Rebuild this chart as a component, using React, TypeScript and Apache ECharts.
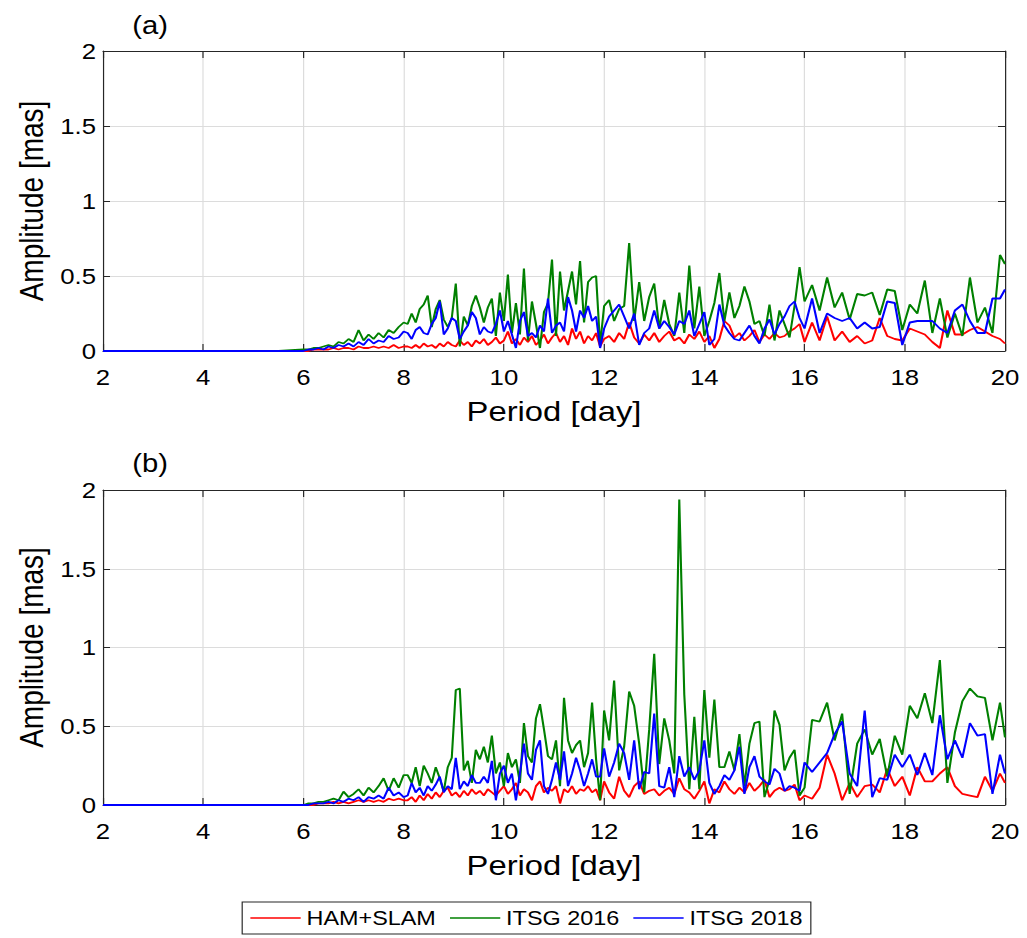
import React, { useEffect, useRef } from "react";
import * as echarts from "echarts";

// Horizontal stretch of the reference picture
const S = 1.17;
const W = Math.round(1027 / S);
const H = 938;

const seriesNames = ["HAM+SLAM", "ITSG 2016", "ITSG 2018"];
const seriesColors = ["#ff0000", "#008000", "#0000ff"];
const xTicks = [2, 4, 6, 8, 10, 12, 14, 16, 18, 20];
const yTicks = [0, 0.5, 1, 1.5, 2];

// Period [day] sample positions
const periods = [
  2, 3, 4, 5, 5.5,
  6.0, 6.1, 6.2, 6.3, 6.4, 6.5, 6.6, 6.7, 6.8, 6.9,
  7.0, 7.1, 7.2, 7.3, 7.4, 7.5, 7.6, 7.7, 7.8, 7.9, 8.0,
  8.08, 8.16, 8.24, 8.32, 8.40, 8.48, 8.56, 8.64, 8.72, 8.80,
  8.88, 8.96, 9.04, 9.12, 9.20, 9.28, 9.36, 9.44, 9.52, 9.60,
  9.68, 9.76, 9.84, 9.92, 10.00, 10.08, 10.16, 10.24, 10.32, 10.40,
  10.48, 10.56, 10.64, 10.72, 10.80, 10.88, 10.96, 11.04, 11.12, 11.20,
  11.28, 11.36, 11.44, 11.52, 11.60, 11.68, 11.76, 11.84, 11.92, 12.00,
  12.1, 12.2, 12.3, 12.4, 12.5, 12.6, 12.7, 12.8, 12.9, 13.0,
  13.1, 13.2, 13.3, 13.4, 13.5, 13.6, 13.7, 13.8, 13.9, 14.0,
  14.1, 14.2, 14.3, 14.4, 14.5, 14.6, 14.7, 14.8, 14.9, 15.0,
  15.1, 15.2, 15.3, 15.4, 15.5, 15.6, 15.7, 15.8, 15.9, 16.0,
  16.15, 16.3, 16.45, 16.6, 16.75, 16.9, 17.05, 17.2, 17.35, 17.5,
  17.65, 17.8, 17.95, 18.1, 18.25, 18.4, 18.55, 18.7, 18.85, 19.0,
  19.15, 19.3, 19.45, 19.6, 19.75, 19.9, 20.0,
];

// Panel (a) amplitudes [mas]
const hamA = [
  0, 0, 0, 0, 0,
  0, 0, 0.01, 0.01, 0.01, 0.01, 0.02, 0.01, 0.02, 0.02,
  0.01, 0.03, 0.02, 0.02, 0.03, 0.02, 0.03, 0.02, 0.04, 0.02, 0.03,
  0.03, 0.02, 0.04, 0.02, 0.05, 0.03, 0.04, 0.02, 0.05, 0.03,
  0.06, 0.04, 0.03, 0.07, 0.04, 0.06, 0.03, 0.07, 0.05, 0.08,
  0.04, 0.06, 0.09, 0.05, 0.07, 0.13, 0.05, 0.08, 0.04, 0.09,
  0.06, 0.1, 0.04, 0.07, 0.11, 0.05, 0.09, 0.12, 0.06, 0.1,
  0.04, 0.15, 0.08, 0.13, 0.05, 0.1, 0.07, 0.12, 0.03, 0.08,
  0.1, 0.06, 0.12, 0.08, 0.19, 0.09, 0.05, 0.11, 0.07, 0.12,
  0.06, 0.1, 0.13, 0.07, 0.09, 0.05, 0.11, 0.08, 0.13, 0.06,
  0.1, 0.02, 0.08, 0.2, 0.17, 0.09, 0.12, 0.07, 0.1, 0.14,
  0.06, 0.11, 0.08, 0.12, 0.09, 0.1, 0.13, 0.15, 0.18, 0.06,
  0.19, 0.07, 0.23, 0.07, 0.13, 0.06, 0.1, 0.05, 0.07, 0.22,
  0.1, 0.08, 0.07, 0.15, 0.13, 0.11, 0.06, 0.02, 0.27, 0.11,
  0.11, 0.14, 0.16, 0.13, 0.1, 0.08, 0.05,
];
const itsg16A = [
  0, 0, 0, 0, 0,
  0.01, 0.01, 0.02, 0.02, 0.03, 0.04, 0.03, 0.06, 0.05, 0.08,
  0.06, 0.14, 0.07, 0.11, 0.08, 0.12, 0.09, 0.14, 0.12, 0.16, 0.19,
  0.18, 0.25, 0.19, 0.28, 0.31, 0.37, 0.16, 0.28, 0.34, 0.21,
  0.16, 0.22, 0.45, 0.03, 0.23, 0.17, 0.3, 0.37, 0.29, 0.19,
  0.29, 0.35, 0.1, 0.39, 0.2, 0.51, 0.12, 0.32, 0.11, 0.55,
  0.07, 0.33, 0.18, 0.02, 0.26, 0.32, 0.61, 0.1, 0.53, 0.27,
  0.4, 0.53, 0.31, 0.6, 0.19, 0.46, 0.49, 0.5, 0.04, 0.3,
  0.34, 0.2, 0.28, 0.3, 0.72, 0.2, 0.46, 0.2, 0.36, 0.45,
  0.15, 0.34, 0.18, 0.1, 0.39, 0.12, 0.57, 0.15, 0.43, 0.1,
  0.2, 0.32, 0.52, 0.2, 0.39, 0.22, 0.3, 0.43, 0.33, 0.18,
  0.2, 0.1, 0.31, 0.07, 0.27, 0.18, 0.09, 0.3, 0.56, 0.33,
  0.44, 0.27, 0.49, 0.29, 0.39, 0.21, 0.38, 0.37, 0.39, 0.24,
  0.41, 0.4, 0.14, 0.31, 0.25, 0.47, 0.12, 0.35, 0.09, 0.25,
  0.1, 0.49, 0.19, 0.29, 0.12, 0.64, 0.58,
];
const itsg18A = [
  0, 0, 0, 0, 0,
  0, 0.01, 0.01, 0.02, 0.01, 0.03, 0.02, 0.04, 0.03, 0.05,
  0.03, 0.06, 0.04, 0.08, 0.05, 0.07, 0.06, 0.1, 0.08, 0.09, 0.13,
  0.12, 0.08, 0.14, 0.16, 0.12, 0.11, 0.18, 0.22, 0.33, 0.11,
  0.15, 0.22, 0.2, 0.08, 0.13, 0.17, 0.26, 0.22, 0.11, 0.16,
  0.13, 0.12, 0.18, 0.27, 0.13, 0.2, 0.11, 0.02, 0.2, 0.26,
  0.1, 0.12, 0.09, 0.17, 0.13, 0.35, 0.12, 0.17, 0.19, 0.13,
  0.36, 0.27, 0.13, 0.27, 0.22, 0.3, 0.2, 0.23, 0.02, 0.15,
  0.23, 0.27, 0.31, 0.23, 0.15, 0.25, 0.04, 0.12, 0.15, 0.27,
  0.15, 0.2, 0.16, 0.11, 0.2, 0.18, 0.27, 0.1, 0.18, 0.26,
  0.04, 0.08, 0.31, 0.17, 0.12, 0.08, 0.07, 0.12, 0.17, 0.1,
  0.05, 0.15, 0.21, 0.11, 0.18, 0.23, 0.3, 0.33, 0.22, 0.15,
  0.35, 0.12, 0.25, 0.22, 0.2, 0.22, 0.15, 0.19, 0.15, 0.16,
  0.33, 0.32, 0.04, 0.19, 0.2, 0.2, 0.2, 0.15, 0.12, 0.27,
  0.31, 0.2, 0.12, 0.12, 0.35, 0.35, 0.41,
];

// Panel (b) amplitudes [mas]
const hamB = [
  0, 0, 0, 0, 0,
  0, 0, 0, 0.01, 0.01, 0.01, 0.02, 0.01, 0.02, 0.01,
  0.02, 0.03, 0.02, 0.03, 0.02, 0.03, 0.02, 0.04, 0.03, 0.04, 0.03,
  0.03, 0.05, 0.02, 0.06, 0.03, 0.07, 0.04, 0.08, 0.05, 0.09,
  0.11, 0.06, 0.08, 0.05, 0.09, 0.06, 0.1, 0.07, 0.09, 0.06,
  0.1, 0.08, 0.06, 0.09, 0.12, 0.07, 0.1, 0.14, 0.06, 0.1,
  0.08, 0.03, 0.12, 0.15, 0.08, 0.11, 0.09, 0.12, 0.01, 0.1,
  0.08, 0.12, 0.07, 0.1, 0.09, 0.12, 0.08, 0.1, 0.03, 0.15,
  0.08, 0.04, 0.18, 0.09, 0.05, 0.12, 0.15, 0.07, 0.09, 0.1,
  0.06, 0.09, 0.11, 0.07, 0.17, 0.1, 0.08, 0.04, 0.09, 0.15,
  0.01, 0.1, 0.08, 0.15, 0.1, 0.07, 0.11, 0.08, 0.14, 0.09,
  0.12, 0.16, 0.05, 0.09, 0.11, 0.09, 0.1, 0.13, 0.03, 0.06,
  0.04, 0.11, 0.32, 0.2, 0.03, 0.14, 0.05, 0.12, 0.13, 0.08,
  0.23, 0.12, 0.18, 0.06, 0.24, 0.15, 0.15, 0.2, 0.24, 0.12,
  0.07, 0.06, 0.05, 0.18, 0.09, 0.2, 0.14,
];
const itsg16B = [
  0, 0, 0, 0, 0,
  0, 0.01, 0.01, 0.02, 0.02, 0.03, 0.04, 0.03, 0.085, 0.05,
  0.07, 0.1, 0.06, 0.11, 0.08, 0.12, 0.17, 0.09, 0.17, 0.11, 0.19,
  0.19, 0.14, 0.24, 0.12, 0.25, 0.2, 0.14, 0.24, 0.17, 0.085,
  0.24, 0.3, 0.73, 0.74, 0.22, 0.28, 0.14, 0.35, 0.29, 0.37,
  0.27, 0.44, 0.2, 0.27, 0.12, 0.33, 0.24, 0.29, 0.14, 0.52,
  0.31, 0.27, 0.55, 0.64, 0.48, 0.31, 0.29, 0.41, 0.12, 0.68,
  0.41, 0.33, 0.38, 0.41, 0.24, 0.33, 0.65, 0.29, 0.03, 0.6,
  0.41, 0.79, 0.22, 0.37, 0.72, 0.63, 0.39, 0.08, 0.48, 0.96,
  0.26, 0.55, 0.41, 0.2, 1.94, 0.7, 0.1, 0.56, 0.1, 0.73,
  0.3, 0.67, 0.24, 0.24, 0.34, 0.22, 0.45, 0.12, 0.39, 0.52,
  0.53, 0.05, 0.16, 0.6, 0.51, 0.22, 0.3, 0.35, 0.06, 0.11,
  0.54, 0.53, 0.65, 0.41, 0.58, 0.07, 0.39, 0.48, 0.32, 0.42,
  0.18, 0.44, 0.32, 0.63, 0.55, 0.71, 0.52, 0.92, 0.14, 0.46,
  0.66, 0.74, 0.69, 0.68, 0.41, 0.65, 0.43,
];
const itsg18B = [
  0, 0, 0, 0, 0,
  0, 0, 0.01, 0.01, 0.01, 0.02, 0.01, 0.03, 0.02, 0.04,
  0.03, 0.05, 0.02, 0.05, 0.04, 0.06, 0.04, 0.11, 0.06, 0.08, 0.05,
  0.06, 0.14, 0.08, 0.11, 0.06, 0.12, 0.09, 0.13, 0.18, 0.08,
  0.12, 0.1, 0.3, 0.1, 0.15, 0.12, 0.19, 0.14, 0.14, 0.18,
  0.14, 0.28, 0.03, 0.2, 0.25, 0.14, 0.2, 0.03, 0.2, 0.39,
  0.2, 0.16, 0.35, 0.41, 0.12, 0.07, 0.16, 0.27, 0.16, 0.34,
  0.12, 0.2, 0.3, 0.22, 0.12, 0.2, 0.29, 0.18, 0.18, 0.36,
  0.18, 0.27, 0.39, 0.33, 0.16, 0.41, 0.1, 0.21, 0.2, 0.58,
  0.12, 0.11, 0.24, 0.05, 0.31, 0.18, 0.24, 0.16, 0.22, 0.41,
  0.14, 0.07, 0.12, 0.19, 0.16, 0.22, 0.37, 0.07, 0.24, 0.31,
  0.18, 0.15, 0.13, 0.23, 0.2, 0.09, 0.12, 0.11, 0.09, 0.27,
  0.21, 0.27, 0.33, 0.45, 0.53, 0.2, 0.12, 0.6, 0.05, 0.17,
  0.16, 0.32, 0.24, 0.32, 0.19, 0.33, 0.19, 0.57, 0.29, 0.41,
  0.3, 0.52, 0.44, 0.45, 0.07, 0.32, 0.2,
];

const panelA = [hamA, itsg16A, itsg18A];
const panelB = [hamB, itsg16B, itsg18B];

const FONT = "'Liberation Sans', Arial, Helvetica, sans-serif";
const AXIS = "#262626";
const GRIDC = "#dcdcdc";

function pairs(v: number[]) {
  return periods.map((p, i) => [p, v[i] ?? 0]);
}

function xAxesFor(gi: number) {
  const common = {
    type: "value" as const,
    gridIndex: gi,
    min: xTicks[0],
    max: xTicks[xTicks.length - 1],
    interval: 2,
    axisLine: { show: true, onZero: false, lineStyle: { color: AXIS, width: 1 } },
    axisTick: { show: true, inside: true, length: 7, lineStyle: { color: AXIS } },
  };
  return [
    {
      ...common,
      position: "bottom",
      axisLabel: { show: true, color: "#000", fontSize: 22, fontFamily: FONT, margin: 15 },
      splitLine: { show: true, lineStyle: { color: GRIDC, width: 1 } },
      name: "Period [day]",
      nameLocation: "middle",
      nameGap: 46,
      nameTextStyle: { color: "#000", fontSize: 28, fontFamily: FONT },
    },
    {
      ...common,
      position: "top",
      axisLabel: { show: false },
      splitLine: { show: false },
    },
  ];
}

function yAxesFor(gi: number) {
  const common = {
    type: "value" as const,
    gridIndex: gi,
    min: yTicks[0],
    max: yTicks[yTicks.length - 1],
    interval: 0.5,
    axisLine: { show: true, onZero: false, lineStyle: { color: AXIS, width: 1 } },
    axisTick: { show: true, inside: true, length: 6, lineStyle: { color: AXIS } },
  };
  return [
    {
      ...common,
      position: "left",
      axisLabel: { show: true, color: "#000", fontSize: 22, fontFamily: FONT, margin: 6 },
      splitLine: { show: true, lineStyle: { color: GRIDC, width: 1 } },
      name: "Amplitude [mas]",
      nameLocation: "middle",
      nameGap: 44,
      nameTextStyle: { color: "#000", fontSize: 28, fontFamily: FONT },
    },
    {
      ...common,
      position: "right",
      axisLabel: { show: false },
      splitLine: { show: false },
    },
  ];
}

export default function App() {
  const ref = useRef<HTMLDivElement>(null);

  useEffect(() => {
    document.body.style.margin = "0";
    if (!ref.current) return;
    const chart = echarts.init(ref.current, undefined, { renderer: "svg" });

    const left = 103 / S;
    const right = W - 1005 / S;

    const series: any[] = [];
    [panelA, panelB].forEach((panel, pi) => {
      panel.forEach((vals, si) => {
        series.push({
          name: seriesNames[si],
          type: "line",
          xAxisIndex: pi * 2,
          yAxisIndex: pi * 2,
          data: pairs(vals),
          showSymbol: false,
          symbol: "none",
          lineStyle: { color: seriesColors[si], width: 1.8 },
          itemStyle: { color: seriesColors[si] },
          clip: true,
          z: 2 + si,
        });
      });
    });

    chart.setOption({
      animation: false,
      backgroundColor: "#ffffff",
      title: [
        { text: "(a)", left: 108, top: 8, textStyle: { fontSize: 25, fontWeight: "normal", color: "#000", fontFamily: FONT } },
        { text: "(b)", left: 108, top: 446, textStyle: { fontSize: 25, fontWeight: "normal", color: "#000", fontFamily: FONT } },
      ],
      grid: [
        { left, right, top: 51, height: 300 },
        { left, right, top: 490, height: 315 },
      ],
      xAxis: [...xAxesFor(0), ...xAxesFor(1)],
      yAxis: [...yAxesFor(0), ...yAxesFor(1)],
      legend: {
        data: seriesNames,
        left: 207,
        top: 902,
        orient: "horizontal",
        icon: "rect",
        itemWidth: 43,
        itemHeight: 1.6,
        itemGap: 12,
        padding: [6, 7, 6, 7],
        borderColor: AXIS,
        borderWidth: 1,
        backgroundColor: "#ffffff",
        textStyle: { fontSize: 20, color: "#000", fontFamily: FONT, lineHeight: 20 },
      },
      series,
    });

    return () => chart.dispose();
  }, []);

  return (
    <div
      ref={ref}
      style={{
        position: "fixed",
        left: 0,
        top: 0,
        width: W,
        height: H,
        transform: `scaleX(${S})`,
        transformOrigin: "0 0",
        background: "#fff",
      }}
    />
  );
}
